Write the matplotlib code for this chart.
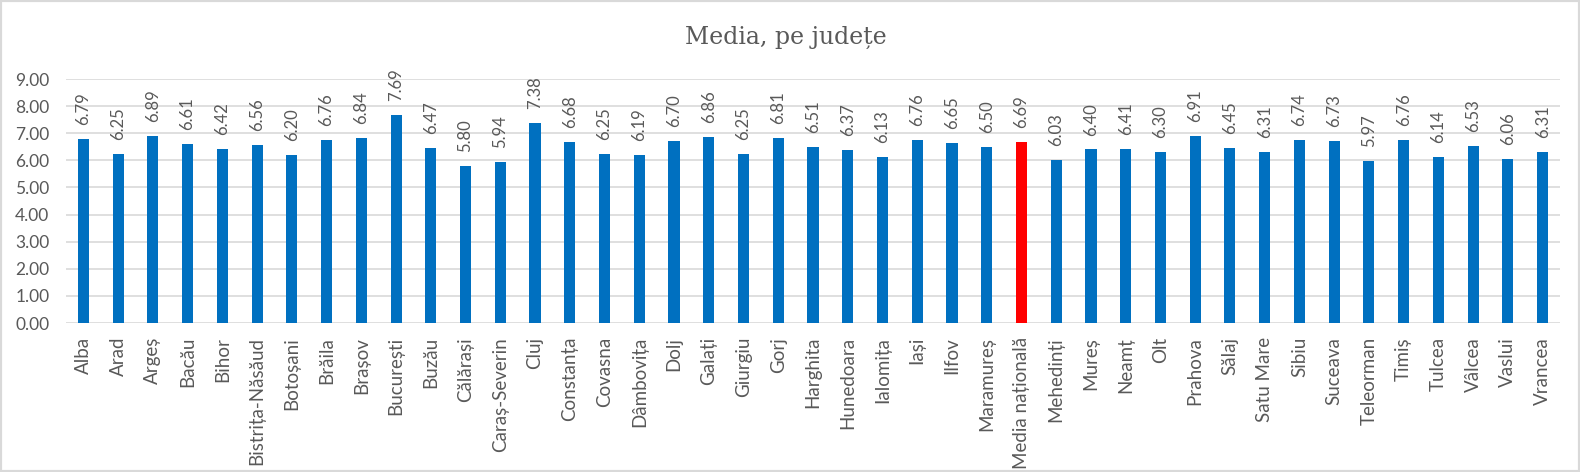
import matplotlib.pyplot as plt
import numpy as np
from matplotlib.patches import Rectangle
from matplotlib.ticker import FormatStrFormatter

judete = ["Alba", "Arad", "Argeș", "Bacău", "Bihor", "Bistrița-Năsăud", "Botoșani",
          "Brăila", "Brașov", "București", "Buzău", "Călărași", "Caraș-Severin", "Cluj",
          "Constanța", "Covasna", "Dâmbovița", "Dolj", "Galați", "Giurgiu", "Gorj",
          "Harghita", "Hunedoara", "Ialomița", "Iași", "Ilfov", "Maramureș",
          "Media națională", "Mehedinți", "Mureș", "Neamț", "Olt", "Prahova", "Sălaj",
          "Satu Mare", "Sibiu", "Suceava", "Teleorman", "Timiș", "Tulcea", "Vâlcea",
          "Vaslui", "Vrancea"]
medii = [6.79, 6.25, 6.89, 6.61, 6.42, 6.56, 6.20, 6.76, 6.84, 7.69, 6.47, 5.80, 5.94,
         7.38, 6.68, 6.25, 6.19, 6.70, 6.86, 6.25, 6.81, 6.51, 6.37, 6.13, 6.76, 6.65,
         6.50, 6.69, 6.03, 6.40, 6.41, 6.30, 6.91, 6.45, 6.31, 6.74, 6.73, 5.97, 6.76,
         6.14, 6.53, 6.06, 6.31]
highlight = "Media națională"

grey = "#595959"
plt.rcParams['font.family'] = ['Lato', 'DejaVu Sans']

fig = plt.figure(figsize=(15.8, 4.72), dpi=100)
ax = fig.add_axes([66 / 1580, 1 - 323 / 472, (1560 - 66) / 1580, (323 - 79) / 472])

x = np.arange(len(judete))
colors = ["#FF0000" if j == highlight else "#0070C0" for j in judete]
ax.bar(x, medii, width=0.32, color=colors, zorder=3)

for xi, v in zip(x, medii):
    ax.annotate(f"{v:.2f}", (xi, v), xytext=(0, 10), textcoords="offset points",
                rotation=90, ha="center", va="bottom", fontsize=12, color=grey)

ax.set_xlim(-0.5, len(judete) - 0.5)
ax.set_ylim(0, 9)
ax.set_yticks(np.arange(0, 10, 1))
ax.yaxis.set_major_formatter(FormatStrFormatter("%.2f"))
ax.set_xticks(x)
ax.set_xticklabels(judete, rotation=90, fontsize=13.5, color=grey)
ax.tick_params(axis="y", labelsize=12.5, colors=grey, length=0, pad=12)
ax.tick_params(axis="x", length=0, pad=10)
ax.grid(axis="y", color="#D9D9D9", linewidth=1.2, zorder=0)
for s in ax.spines.values():
    s.set_visible(False)

fig.text(786 / 1580, 1 - 37 / 472, "Media, pe județe", ha="center", va="center",
         fontsize=17, color=grey, family=['DejaVu Serif'])

fig.patches.append(Rectangle((0, 0), 1, 1, transform=fig.transFigure, fill=False,
                             edgecolor="#D9D9D9", linewidth=3))

plt.savefig("out.png", dpi=100)
